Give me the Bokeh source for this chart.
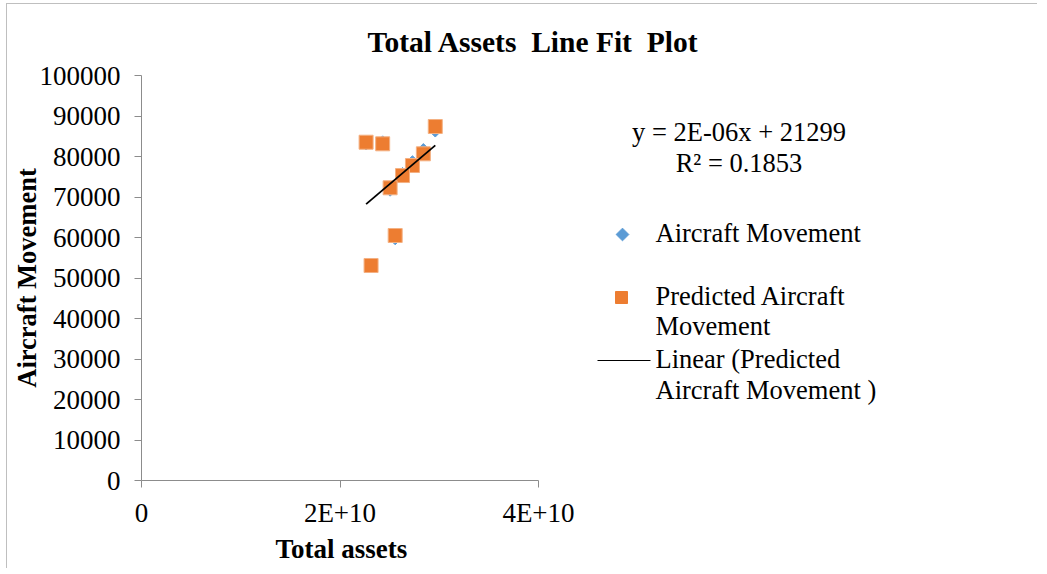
import numpy as np
from bokeh.plotting import figure
from bokeh.models import Range1d, FixedTicker, Label, BasicTickFormatter, Title
from bokeh.embed import file_html
from bokeh.resources import INLINE

# ---------------- data ----------------
total_assets = [2.263e10, 2.430e10, 2.960e10, 2.840e10, 2.730e10, 2.630e10, 2.505e10, 2.556e10, 2.313e10]
actual_movement = [83000, 83700, 86200, 81800, 78800, 75900, 71600, 59600, 53500]
predicted_movement = [83530, 83130, 87400, 80660, 77780, 75300, 72270, 60490, 53090]

x_ticks = [0, 2e10, 4e10]
x_tick_labels = ["0", "2E+10", "4E+10"]
y_ticks = list(range(0, 100001, 10000))

# the original title has double spaces; a no-break space keeps them visible in SVG
title_text = "Total Assets \u00a0Line Fit \u00a0Plot"
x_label = "Total assets"
y_label = "Aircraft Movement"
equation_text = "y = 2E-06x + 21299"
r2_text = "R² = 0.1853"
legend_lines = ["Aircraft Movement", "Predicted Aircraft", "Movement",
                "Linear (Predicted", "Aircraft Movement )"]

# ---------------- style / layout ----------------
FONT = "Liberation Serif"
BLUE = "#5B9BD5"
ORANGE = "#ED7D31"
AXIS_GREY = "#8C8C8C"

FRAME_W, FRAME_H = 888, 405
AXIS_PX = 397                      # pixels covered by 0 .. 4E+10
X_END = 4e10 * FRAME_W / AXIS_PX
Y_END = 100000

p = figure(frame_width=FRAME_W, frame_height=FRAME_H,
           x_range=Range1d(0, X_END), y_range=Range1d(0, Y_END),
           min_border_left=134, min_border_top=71, min_border_bottom=88, min_border_right=8,
           output_backend="svg", toolbar_location=None,
           background_fill_color="white", border_fill_color="white")
p.styles = {"margin-left": "6px", "margin-top": "3px",
            "border-left": "1px solid #BFBFBF", "border-top": "1px solid #BFBFBF"}
p.xgrid.visible = False
p.ygrid.visible = False
p.outline_line_color = None

# title (left-aligned with an offset so it sits where Excel put it)
p.title.text = title_text
p.title.align = "left"
p.title.offset = 226
p.title.standoff = 36
p.title.text_font = FONT
p.title.text_font_size = "29.5px"
p.title.text_font_style = "bold"
p.title.text_color = "black"

for ax in (p.xaxis[0], p.yaxis[0]):
    ax.axis_line_color = AXIS_GREY
    ax.major_tick_line_color = AXIS_GREY
    ax.major_tick_out = 7
    ax.major_tick_in = 0
    ax.minor_tick_line_color = None
    ax.major_label_text_font = FONT
    ax.major_label_text_font_size = "27px"
    ax.major_label_text_color = "black"

p.xaxis.ticker = FixedTicker(ticks=x_ticks)
p.xaxis.major_label_overrides = {t: l for t, l in zip(x_ticks, x_tick_labels)}
p.xaxis.bounds = (0, 4e10)
p.xaxis.major_label_standoff = 10

p.yaxis.ticker = FixedTicker(ticks=y_ticks)
p.yaxis.formatter = BasicTickFormatter(use_scientific=False)
p.yaxis.bounds = (0, Y_END)
p.yaxis.major_label_standoff = 14
p.yaxis.axis_label = y_label
p.yaxis.axis_label_text_font = FONT
p.yaxis.axis_label_text_font_size = "26.5px"
p.yaxis.axis_label_text_font_style = "bold"
p.yaxis.axis_label_text_color = "black"
p.yaxis.axis_label_standoff = -5

# x-axis title placed under the 0 .. 4E+10 span
p.add_layout(Title(text=x_label, align="left", offset=134, standoff=6, vertical_align="top",
                   text_font=FONT, text_font_size="27px", text_font_style="bold",
                   text_color="black"), "below")

# ---------------- data marks ----------------
p.scatter(total_assets, actual_movement, marker="square", angle=np.pi / 4, size=8,
          fill_color=BLUE, line_color=BLUE)
p.scatter(total_assets, predicted_movement, marker="square", size=14,
          fill_color=ORANGE, line_color="#F4B183", line_width=1)

slope, intercept = np.polyfit(total_assets, predicted_movement, 1)
fit_x = [min(total_assets), max(total_assets)]
fit_y = [slope * v + intercept for v in fit_x]
p.line(fit_x, fit_y, line_color="black", line_width=1.8)

# ---------------- legend (drawn by hand, Excel style) ----------------
def px_x(px):
    return px / FRAME_W * X_END

def px_y(py):
    return py / FRAME_H * Y_END

p.scatter([px_x(481)], [px_y(246)], marker="square", angle=np.pi / 4, size=9,
          fill_color=BLUE, line_color=BLUE)
p.scatter([px_x(480)], [px_y(183)], marker="square", size=12,
          fill_color=ORANGE, line_color=ORANGE)
p.line([px_x(456), px_x(509)], [px_y(120), px_y(120)], line_color="black", line_width=1)

legend_rows_y = [247.5, 184.5, 154.5, 121.5, 91]
for txt, yy in zip(legend_lines, legend_rows_y):
    p.add_layout(Label(x=514, y=yy, x_units="screen", y_units="screen", text=txt,
                       text_font=FONT, text_font_size="26.5px", text_color="black",
                       text_align="left", text_baseline="middle"))

# trendline equation
p.add_layout(Label(x=597.5, y=349, x_units="screen", y_units="screen", text=equation_text,
                   text_font=FONT, text_font_size="26.5px", text_color="black",
                   text_align="center", text_baseline="middle"))
p.add_layout(Label(x=597.5, y=318, x_units="screen", y_units="screen", text=r2_text,
                   text_font=FONT, text_font_size="26.5px", text_color="black",
                   text_align="center", text_baseline="middle"))

open("out.html", "w").write(file_html(p, INLINE))
